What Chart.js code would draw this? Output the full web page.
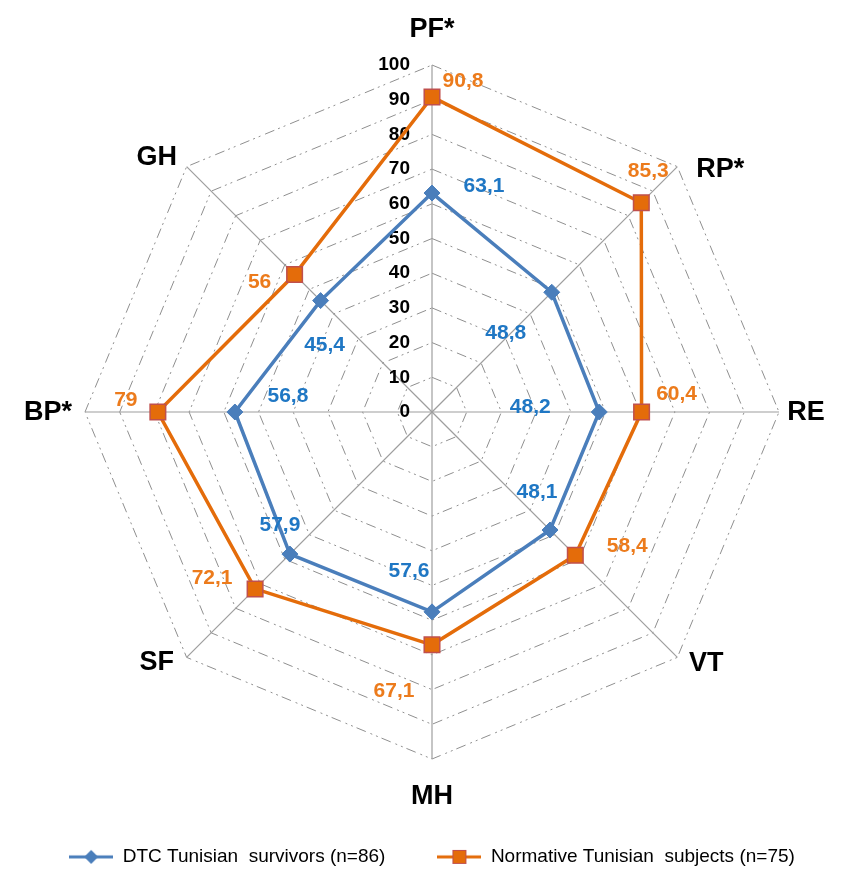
<!DOCTYPE html>
<html>
<head>
<meta charset="utf-8">
<script src="https://cdn.jsdelivr.net/npm/chart.js@4"></script>
<style>
	html, body { margin: 0; padding: 0; background: #fff; }
</style>
</head>
<body>
<canvas id="radarChart" width="850" height="872"></canvas>
<script>
// Chart data
const categories = ['PF*', 'RP*', 'RE', 'VT', 'MH', 'SF', 'BP*', 'GH'];
const survivors = [63.1, 48.8, 48.2, 48.1, 57.6, 57.9, 56.8, 45.4];
const normative = [90.8, 85.3, 60.4, 58.4, 67.1, 72.1, 79, 56];
const seriesNames = ['DTC Tunisian  survivors (n=86)', 'Normative Tunisian  subjects (n=75)'];
const scaleMin = 0;
const scaleMax = 100;
const scaleStep = 10;

// Label placement (pixel offsets from the axis end / from the point)
const axisLabelOffsets = [[0, -35], [43, 3], [27, 1], [29, 6], [0, 38], [-30, 5], [-37, 1], [-30, -9]];
const valueLabelOffsets = [
	[[52, -7], [-46, 41], [-69, -5], [-13, -38], [-23, -41], [-10, -29], [53, -16], [4, 45]],
	[[31, -16], [7, -31], [35, -18], [52, -9], [-38, 46], [-43, -11], [-32, -12], [-35, 8]]
];

const blue = '#4A7EBB';
const blueText = '#1F77C4';
const orange = '#E46C0A';
const orangeText = '#EC7B1C';
const fontFamily = "'Liberation Sans', Arial, sans-serif";

function legendSwatch(color, style) {
	const c = document.createElement('canvas');
	c.width = 44;
	c.height = 16;
	const g = c.getContext('2d');
	g.strokeStyle = color;
	g.lineWidth = 3;
	g.beginPath();
	g.moveTo(0, 8);
	g.lineTo(44, 8);
	g.stroke();
	g.fillStyle = color;
	if (style === 'diamond') {
		g.beginPath();
		g.moveTo(22, 1);
		g.lineTo(29, 8);
		g.lineTo(22, 15);
		g.lineTo(15, 8);
		g.closePath();
		g.fill();
	} else {
		g.fillRect(15, 1, 14, 14);
		g.strokeStyle = '#C0504D';
		g.lineWidth = 1;
		g.strokeRect(15.5, 1.5, 13, 13);
	}
	return c;
}
const swatches = [legendSwatch(blue, 'diamond'), legendSwatch(orange, 'square')];

// tick numbers, axis names and value labels
const radarText = {
	id: 'radarText',
	beforeDatasetsDraw(chart) {
		const scale = chart.scales.r;
		const ctx = chart.ctx;
		ctx.save();
		ctx.font = 'bold 19px ' + fontFamily;
		ctx.fillStyle = '#000';
		ctx.textAlign = 'right';
		ctx.textBaseline = 'middle';
		scale.ticks.forEach(t => {
			const d = scale.getDistanceFromCenterForValue(t.value);
			ctx.fillText(String(t.value), scale.xCenter - 22, scale.yCenter - d);
		});
		ctx.font = 'bold 27px ' + fontFamily;
		ctx.textAlign = 'center';
		chart.data.labels.forEach((lab, i) => {
			const p = scale.getPointPositionForValue(i, scaleMax);
			ctx.fillText(lab, p.x + axisLabelOffsets[i][0], p.y + axisLabelOffsets[i][1]);
		});
		ctx.restore();
	},
	afterDatasetsDraw(chart) {
		const ctx = chart.ctx;
		ctx.save();
		ctx.font = 'bold 21px ' + fontFamily;
		ctx.textAlign = 'center';
		ctx.textBaseline = 'middle';
		chart.data.datasets.forEach((ds, di) => {
			const meta = chart.getDatasetMeta(di);
			ctx.fillStyle = di === 0 ? blueText : orangeText;
			meta.data.forEach((pt, i) => {
				const txt = String(ds.data[i]).replace('.', ',');
				ctx.fillText(txt, pt.x + valueLabelOffsets[di][i][0], pt.y + valueLabelOffsets[di][i][1]);
			});
		});
		ctx.restore();
	}
};

new Chart(document.getElementById('radarChart'), {
	type: 'radar',
	data: {
		labels: categories,
		datasets: [{
			label: seriesNames[0],
			data: survivors,
			borderColor: blue,
			borderWidth: 3.5,
			backgroundColor: 'transparent',
			fill: false,
			pointStyle: 'rectRot',
			pointRadius: 8,
			pointBackgroundColor: blue,
			pointBorderColor: blue,
			pointBorderWidth: 1
		}, {
			label: seriesNames[1],
			data: normative,
			borderColor: orange,
			borderWidth: 3.5,
			backgroundColor: 'transparent',
			fill: false,
			pointStyle: 'rect',
			pointRadius: 11,
			pointBackgroundColor: orange,
			pointBorderColor: '#C0504D',
			pointBorderWidth: 1.5
		}]
	},
	options: {
		responsive: false,
		animation: false,
		layout: {
			padding: { top: 65, left: 14, right: 0, bottom: 0 }
		},
		scales: {
			r: {
				min: scaleMin,
				max: scaleMax,
				ticks: { stepSize: scaleStep, display: false },
				pointLabels: { display: false },
				angleLines: { color: '#9e9e9e', lineWidth: 1.2 },
				grid: { color: '#8f8f8f', lineWidth: 1 },
				border: { dash: [10, 4, 2, 4, 2, 5] }
			}
		},
		plugins: {
			legend: {
				position: 'bottom',
				maxHeight: 113,
				title: {
					display: true,
					text: ' ',
					font: { size: 12 },
					padding: { top: 11, bottom: 11 }
				},
				labels: {
					usePointStyle: true,
					pointStyleWidth: 44,
					padding: 52,
					color: '#000',
					font: { size: 19, family: fontFamily },
					generateLabels: chart => Chart.defaults.plugins.legend.labels.generateLabels(chart).map((l, i) => Object.assign(l, { pointStyle: swatches[i] }))
				}
			},
			tooltip: { enabled: false }
		}
	},
	plugins: [radarText]
});
</script>
</body>
</html>
